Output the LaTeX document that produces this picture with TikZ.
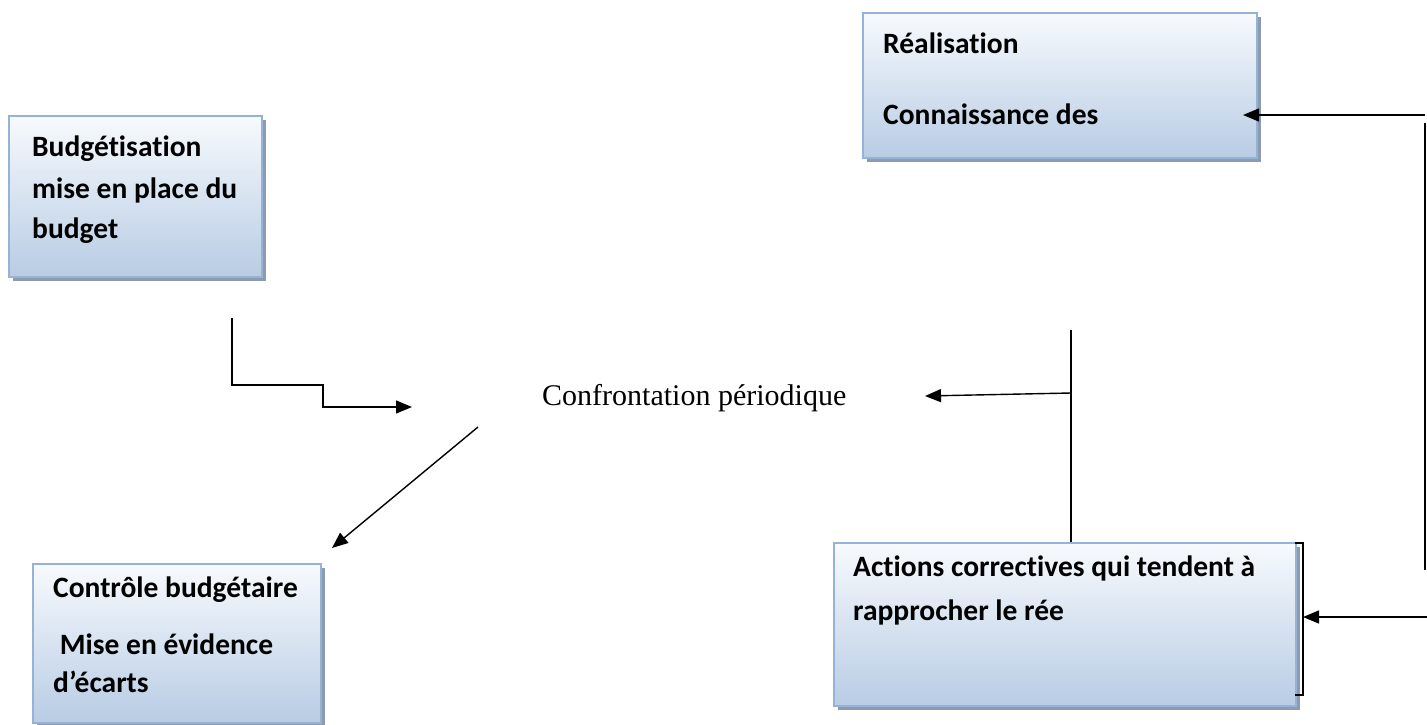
\documentclass[tikz,border=0pt]{standalone}
\usepackage{fontspec}
\setmainfont{Liberation Serif}
\newfontfamily\boxfont[Ligatures=NoCommon]{Carlito}
\usetikzlibrary{arrows.meta,shadows}

\definecolor{boxedge}{HTML}{95B3D7}
\definecolor{boxtop}{HTML}{F7FAFD}
\definecolor{boxbottom}{HTML}{B8CCE4}
\definecolor{boxshadow}{HTML}{8D9BB0}

\tikzset{
  panel/.style={draw=boxedge, line width=1.6pt, top color=boxtop, bottom color=boxbottom,
    drop shadow={shadow xshift=4.5pt, shadow yshift=-4.5pt, fill=boxshadow, opacity=1},
    inner sep=0pt, anchor=north west},
  paneltext/.style={font=\boxfont\bfseries\fontsize{29.5}{36}\selectfont, anchor=base west,
    inner sep=0pt},
  link/.style={line width=1.4pt, black},
  arrowlink/.style={link, -{Triangle[length=16pt,width=13pt]}},
}

\begin{document}
\begin{tikzpicture}[x=1pt, y=-1pt]
\useasboundingbox (0,0) rectangle (1427,724);

% boxes
\node[panel, minimum width=253pt, minimum height=161pt] (budget) at (8,115) {};
\node[panel, minimum width=394pt, minimum height=145pt] (real) at (862,12) {};
\node[panel, minimum width=288pt, minimum height=159pt] (ctrl) at (32,563) {};
\node[panel, minimum width=462pt, minimum height=163pt] (act) at (833,542) {};

% box texts, one node per line
\node[paneltext] (tbudget1) at (32,156) {Budgétisation};
\node[paneltext] (tbudget2) at (32,198) {mise en place du};
\node[paneltext] (tbudget3) at (32,238) {budget};
\node[paneltext] (treal1) at (883,53) {Réalisation};
\node[paneltext] (treal2) at (883,124) {Connaissance des};
\node[paneltext] (tctrl1) at (53,597) {Contrôle budgétaire};
\node[paneltext] (tctrl2) at (53,654) {\ Mise en évidence};
\node[paneltext] (tctrl3) at (53,692) {d’écarts};
\node[paneltext] (tact1) at (853,576) {Actions correctives qui tendent à};
\node[paneltext] (tact2) at (853,620) {rapprocher le rée};

% central label
\node[font=\fontsize{30}{36}\selectfont, anchor=base west, inner sep=0pt] (conf) at (542,405) {Confrontation périodique};

% connector end points
\coordinate (s1) at (232,318);
\coordinate (s2) at (232,385);
\coordinate (s3) at (323,385);
\coordinate (s4) at (323,407);
\coordinate (s5) at (412,407);
\coordinate (d1) at (478,427);
\coordinate (d2) at (332,548);
\coordinate (m1) at (1071,330);
\coordinate (m2) at (1071,542);
\coordinate (m3) at (1071,393);
\coordinate (m4) at (925,396);
\coordinate (r1) at (1425,115);
\coordinate (r2) at (1243,115);
\coordinate (r3) at (1425,123);
\coordinate (r4) at (1425,570);
\coordinate (r5) at (1427,617);
\coordinate (r6) at (1303,617);
\coordinate (b1) at (1295,543);
\coordinate (b2) at (1303,543);
\coordinate (b3) at (1303,695);
\coordinate (b4) at (1295,695);

% connectors
\draw[arrowlink] (s1) -- (s2) -- (s3) -- (s4) -- (s5);
\draw[arrowlink] (d1) -- (d2);
\draw[link] (m1) -- (m2);
\draw[arrowlink] (m3) -- (m4);
\draw[arrowlink] (r1) -- (r2);
\draw[link] (r3) -- (r4);
\draw[arrowlink] (r5) -- (r6);
\draw[link] (b1) -- (b2) -- (b3) -- (b4);
\end{tikzpicture}
\end{document}
